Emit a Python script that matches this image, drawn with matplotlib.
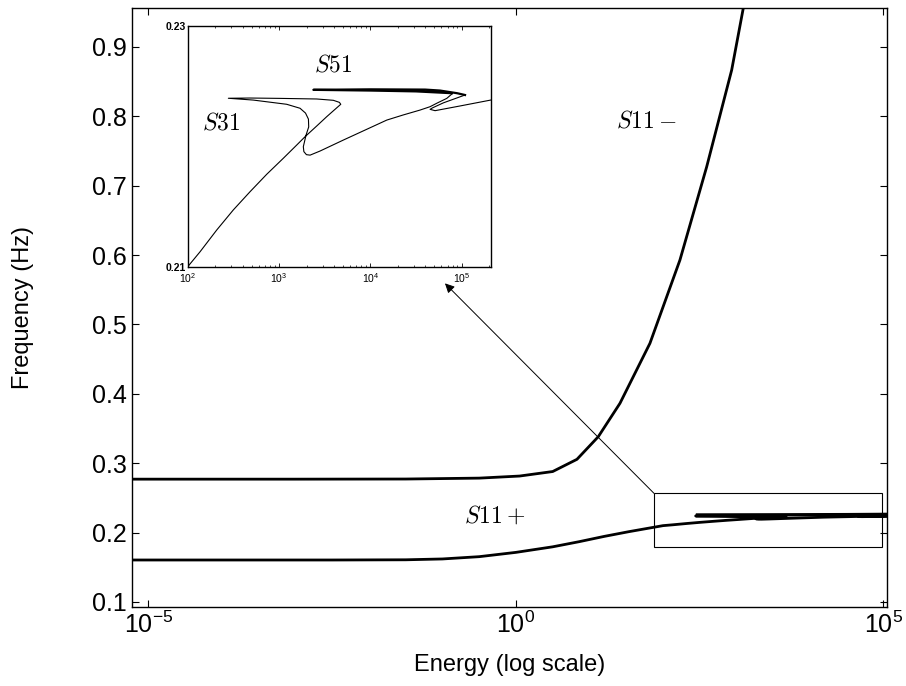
import numpy as np
import matplotlib
matplotlib.use('Agg')
import matplotlib.pyplot as plt
from matplotlib.patches import Rectangle
from matplotlib.ticker import FixedLocator, NullLocator, LogLocator, FixedFormatter

plt.rcParams['font.family'] = ['Liberation Sans', 'DejaVu Sans']
plt.rcParams['mathtext.fontset'] = 'custom'
plt.rcParams['mathtext.rm'] = 'Liberation Sans'
plt.rcParams['mathtext.it'] = 'Liberation Sans:italic'

# --- data (log10 of energy, frequency in Hz) ---
# S11- branch
s11m_logE = [-5.25, -3.0, -1.5, -0.5, 0.05, 0.5, 0.83, 1.12, 1.415, 1.823, 2.231, 2.595, 2.935, 3.15]
s11m_freq = [0.277, 0.277, 0.2772, 0.2785, 0.2815, 0.288, 0.3056, 0.3382, 0.3863, 0.4728, 0.5928, 0.7272, 0.8666, 0.988]

# S11+ branch, low energy part (main plot)
s11p_logE = [-5.25, -2.5, -1.5, -1.0, -0.5, 0.0, 0.5, 0.86, 1.2, 1.535]
s11p_freq = [0.1605, 0.1605, 0.1608, 0.162, 0.1653, 0.1715, 0.1795, 0.1869, 0.1945, 0.2013]

# S11+ continued with S31 tongue (zoomed part)
zoom_logE = [2.0, 2.135, 2.318, 2.499, 2.682, 2.865, 3.047, 3.194, 3.285, 3.413, 3.522, 3.613, 3.676,
             3.661, 3.595, 3.413, 3.011, 2.682, 2.445,
             2.718, 3.084, 3.230, 3.290, 3.322, 3.325, 3.296, 3.266, 3.272, 3.300, 3.340,
             3.449, 3.704, 3.942, 4.180, 4.358, 4.544, 4.654, 4.731, 4.837, 4.892]
zoom_freq = [0.2100, 0.21124, 0.21305, 0.21471, 0.21622, 0.21767, 0.2190, 0.2201, 0.22079, 0.22168, 0.22245, 0.22306, 0.22348,
             0.22364, 0.22381, 0.22392, 0.22397, 0.22400, 0.22398,
             0.22383, 0.22348, 0.22315, 0.22275, 0.22225, 0.22160, 0.22093, 0.21996, 0.21955, 0.21930, 0.21926,
             0.2196, 0.22051, 0.22134, 0.22217, 0.22259, 0.2230, 0.22328, 0.22358, 0.22397, 0.22433]

# S51 tongue (zoomed part)
s51_logE = [4.892, 4.5, 4.0, 3.376, 4.0, 4.6, 4.763, 4.95, 5.037]
s51_freq = [0.2244, 0.22455, 0.22462, 0.22468, 0.22472, 0.2247, 0.22462, 0.2244, 0.22425]

# after S51 fold (zoomed part)
tail_logE = [5.037, 4.80, 4.68, 4.654, 4.709, 4.982, 5.318]
tail_freq = [0.22425, 0.2236, 0.22318, 0.22306, 0.22295, 0.22334, 0.22383]

# S51 line as seen in the main plot
s51_main_logE = [2.47, 3.5, 4.5, 5.1]
s51_main_freq = [0.2254, 0.2256, 0.2259, 0.2263]

main_xticks = [1e-5, 1e0, 1e5]
main_xlabels = ['$10^{-5}$', '$10^{0}$', '$10^{5}$']
main_yticks = [0.1, 0.2, 0.3, 0.4, 0.5, 0.6, 0.7, 0.8, 0.9]
inset_xticks = [1e2, 1e3, 1e4, 1e5]
inset_xlabels = ['$10^{2}$', '$10^{3}$', '$10^{4}$', '$10^{5}$']
inset_yticks = [0.21, 0.23]

E = lambda v: 10.0 ** np.asarray(v)

fig = plt.figure(figsize=(9.06, 6.86), dpi=100)
ax = fig.add_axes([0.1457, 0.1152, 0.8333, 0.8731])

ax.plot(E(s11m_logE), s11m_freq, color='k', lw=2.0)
ax.plot(E(s11p_logE + zoom_logE), s11p_freq + zoom_freq, color='k', lw=2.0)
ax.plot(E(tail_logE), tail_freq, color='k', lw=2.0)
ax.plot(E(s51_main_logE), s51_main_freq, color='k', lw=2.4)

ax.set_xscale('log')
ax.set_xlim(10 ** -5.224, 10 ** 5.048)
ax.set_ylim(0.0928, 0.956)
ax.xaxis.set_major_locator(FixedLocator(main_xticks))
ax.xaxis.set_major_formatter(FixedFormatter(main_xlabels))
ax.xaxis.set_minor_locator(NullLocator())
ax.set_yticks(main_yticks)
ax.set_yticklabels([f'{v:.1f}' for v in main_yticks])
ax.tick_params(direction='in', length=5, width=0.8, labelsize=18, top=True, right=True)
for s in ax.spines.values():
    s.set_linewidth(1.0)
ax.set_xlabel('Energy (log scale)', fontsize=17, labelpad=11)
ax.set_ylabel('Frequency (Hz)', fontsize=17, labelpad=42)

ax.text(10 ** -0.286, 0.224, r'$S11+$', fontsize=17, ha='center', va='center', math_fontfamily='cm')
ax.text(10 ** 1.778, 0.792, r'$S11-$', fontsize=17, ha='center', va='center', math_fontfamily='cm')

# zoom box and arrow
ax.add_patch(Rectangle((10 ** 1.878, 0.1788), 10 ** 4.98 - 10 ** 1.878, 0.2566 - 0.1788,
                       fill=False, lw=0.8, ec='k'))
ax.annotate('', xy=(10 ** -0.966, 0.5592), xytext=(10 ** 1.878, 0.2566),
            arrowprops=dict(arrowstyle='-|>', lw=0.7, color='k', mutation_scale=14, shrinkA=0, shrinkB=0))

# inset
ins = fig.add_axes([0.2072, 0.6112, 0.3344, 0.3513])
ins.plot(E(zoom_logE), zoom_freq, color='k', lw=0.8)
ins.plot(E(s51_logE), s51_freq, color='k', lw=1.6)
ins.plot(E(tail_logE), tail_freq, color='k', lw=0.8)
ins.set_xscale('log')
ins.set_xlim(1e2, 10 ** 5.318)
ins.set_ylim(0.21, 0.23)
ins.xaxis.set_major_locator(FixedLocator(inset_xticks))
ins.xaxis.set_major_formatter(FixedFormatter(inset_xlabels))
ins.xaxis.set_minor_locator(LogLocator(base=10, subs=np.arange(2, 10)))
ins.xaxis.set_minor_formatter(FixedFormatter([]))
ins.set_yticks(inset_yticks)
ins.set_yticklabels(['0.21', '0.23'], fontweight='bold')
ins.tick_params(which='both', direction='in', labelsize=7.5, top=True, right=True)
ins.tick_params(axis='y', pad=1.5)
ins.tick_params(axis='x', pad=3)
ins.tick_params(which='major', length=3, width=0.6)
ins.tick_params(which='minor', length=1.6, width=0.5)
for s in ins.spines.values():
    s.set_linewidth(1.0)
ins.text(10 ** 2.365, 0.2219, r'$S31$', fontsize=17, ha='center', va='center', math_fontfamily='cm')
ins.text(10 ** 3.595, 0.22674, r'$S51$', fontsize=17, ha='center', va='center', math_fontfamily='cm')

fig.savefig('out.png', dpi=100)
